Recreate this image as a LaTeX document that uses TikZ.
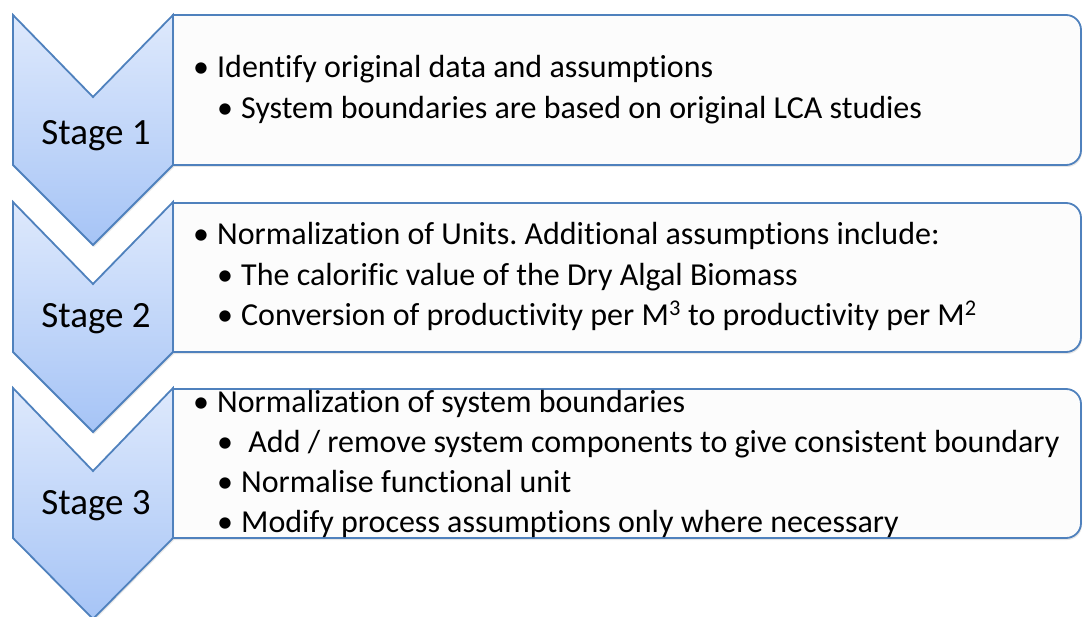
\documentclass[tikz,border=0pt]{standalone}
\usepackage{fontspec}
\setmainfont{Carlito}[Ligatures=NoCommon]
\usetikzlibrary{shadows}
\definecolor{chevblue}{RGB}{79,129,189}
\definecolor{chevtop}{RGB}{222,233,252}
\definecolor{chevbot}{RGB}{166,196,246}
\definecolor{boxfill}{RGB}{252,252,252}
\newcommand{\bul}{\makebox[24pt][l]{\textbullet}}
\frenchspacing

\begin{document}
\begin{tikzpicture}[x=1pt, y=-1pt,
  chev/.style={draw=chevblue, line width=1.8pt, line join=miter,
               top color=chevtop, bottom color=chevbot,
               drop shadow={shadow xshift=1pt, shadow yshift=-2pt, opacity=0.2}},
  panel/.style={draw=chevblue, line width=1.8pt, fill=boxfill,
                drop shadow={shadow xshift=1pt, shadow yshift=-2pt, opacity=0.2}},
  stage/.style={font=\fontsize{37}{44}\selectfont, anchor=base, inner sep=0pt},
  item/.style={font=\fontsize{32}{40}\selectfont, anchor=base west, inner sep=0pt}
]
  \useasboundingbox (0,0) rectangle (1083,617);

  % text panels
  \draw[panel] (173,15) -- (1066,15) arc[start angle=-90, end angle=0, radius=15]
    -- (1081,150) arc[start angle=0, end angle=90, radius=15] -- (173,165) -- cycle;
  \draw[panel] (173,203) -- (1066,203) arc[start angle=-90, end angle=0, radius=15]
    -- (1081,337) arc[start angle=0, end angle=90, radius=15] -- (173,352) -- cycle;
  \draw[panel] (173,389) -- (1066,389) arc[start angle=-90, end angle=0, radius=15]
    -- (1081,523) arc[start angle=0, end angle=90, radius=15] -- (173,538) -- cycle;

  % chevrons
  \draw[chev] (13,15) -- (93,97) -- (173,15) -- (173,165) -- (93,245) -- (13,165) -- cycle;
  \draw[chev] (13,202) -- (93,284) -- (173,202) -- (173,352) -- (93,432) -- (13,352) -- cycle;
  \draw[chev] (13,388) -- (93,471) -- (173,388) -- (173,538) -- (93,619) -- (13,538) -- cycle;

  \node[stage] (stage1) at (96,145) {Stage 1};
  \node[stage] (stage2) at (96,327) {Stage 2};
  \node[stage] (stage3) at (96,514) {Stage 3};

  \node[item] (s1a) at (193,78)  {\bul Identify original data and assumptions};
  \node[item] (s1b) at (217,119) {\bul System boundaries are based on original LCA studies};

  \node[item] (s2a) at (193,245) {\bul Normalization of Units. Additional assumptions include:};
  \node[item] (s2b) at (217,286) {\bul The calorific value of the Dry Algal Biomass};
  \node[item] (s2c) at (217,325) {\bul Conversion of productivity per M\textsuperscript{3} to productivity per M\textsuperscript{2}};

  \node[item] (s3a) at (193,412) {\bul Normalization of system boundaries};
  \node[item] (s3b) at (217,452) {\bul\ Add / remove system components to give consistent boundary};
  \node[item] (s3c) at (217,492) {\bul Normalise functional unit};
  \node[item] (s3d) at (217,532) {\bul Modify process assumptions only where necessary};
\end{tikzpicture}
\end{document}
